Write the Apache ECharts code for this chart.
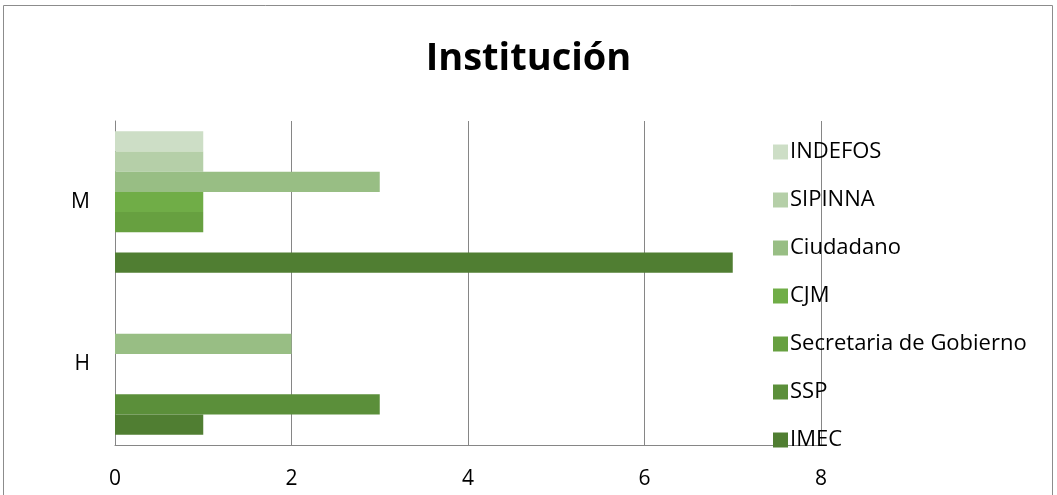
<!DOCTYPE html>
<html><head><meta charset="utf-8">
<script src="https://cdn.jsdelivr.net/npm/echarts@6/dist/echarts.min.js"></script>
<style>html,body{margin:0;padding:0;background:#fff}#c{width:1057px;height:495px}</style>
</head><body><div id="c"></div>
<script>
var categories = ['H', 'M'];
var seriesNames = ['IMEC', 'SSP', 'Secretaria de Gobierno', 'CJM', 'Ciudadano', 'SIPINNA', 'INDEFOS'];
var IMEC = [1, 7];
var SSP = [3, 0];
var SecretariaDeGobierno = [0, 1];
var CJM = [0, 1];
var Ciudadano = [2, 3];
var SIPINNA = [0, 1];
var INDEFOS = [0, 1];
var xTicks = [0, 2, 4, 6, 8];

var values = [IMEC, SSP, SecretariaDeGobierno, CJM, Ciudadano, SIPINNA, INDEFOS];
var colors = ['#507E32', '#5B8F3A', '#67A040', '#70AD47', '#98BE84', '#B5CFA8', '#CDDEC6'];
var font = 'Open Sans';

// ECharts stacks horizontal bars top-to-bottom in series order; Excel puts the first series at the bottom.
var order = [6, 5, 4, 3, 2, 1, 0];

var chart = echarts.init(document.getElementById('c'));
chart.setOption({
  animation: false,
  title: {text: 'Institución', left: 'center', top: 35,
    textStyle: {fontFamily: font, fontSize: 38, fontWeight: 'bold', color: '#000'}},
  legend: {orient: 'vertical', left: 768, top: 135, itemWidth: 15, itemHeight: 15, itemGap: 24,
    data: order.map(function (i) { return seriesNames[i]; }), icon: 'rect',
    textStyle: {fontFamily: font, fontSize: 22, color: '#000', lineHeight: 24, padding: [0,0,0,-3]}},
  grid: {left: 115, right: 236, top: 121, bottom: 50, containLabel: false},
  xAxis: {type: 'value', min: xTicks[0], max: xTicks[xTicks.length-1], interval: 2,
    axisLine: {show: true, lineStyle: {color: '#868686'}},
    axisTick: {show: false},
    splitLine: {show: true, lineStyle: {color: '#868686', width: 1}},
    axisLabel: {fontFamily: font, fontSize: 21, color: '#000', margin: 24}},
  yAxis: {type: 'category', data: categories,
    axisLine: {show: true, lineStyle: {color: '#868686'}},
    axisTick: {show: false},
    axisLabel: {fontFamily: font, fontSize: 21, color: '#000', margin: 25}},
  series: order.map(function (i) {
    return {name: seriesNames[i], type: 'bar', data: values[i], barGap: '0%', barCategoryGap: '12.6%',
      itemStyle: {color: colors[i]}};
  }),
  graphic: [{type: 'rect', shape: {x: 3.5, y: 5.5, width: 1049, height: 510},
    style: {fill: null, stroke: '#8c8c8c', lineWidth: 1}, silent: true}]
});
</script></body></html>
